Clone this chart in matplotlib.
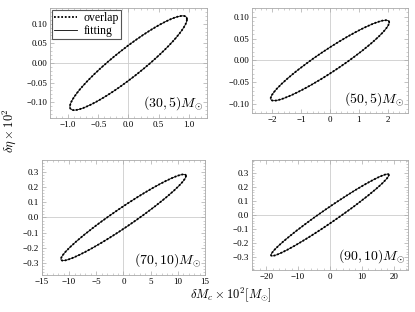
import numpy as np
import matplotlib

matplotlib.use("Agg")
import matplotlib.pyplot as plt
from matplotlib.ticker import AutoMinorLocator

plt.rcParams["font.family"] = ["Liberation Serif", "DejaVu Serif"]
plt.rcParams["mathtext.fontset"] = "cm"

# per-panel ellipse readings: half-width in x, half-height in y, y where ellipse crosses x=0
labels = [r"$(30,5)M_{\odot}$", r"$(50,5)M_{\odot}$", r"$(70,10)M_{\odot}$", r"$(90,10)M_{\odot}$"]
x_half = [0.97, 2.05, 11.5, 18.5]
y_half = [0.120, 0.092, 0.285, 0.290]
y_cross = [0.045, 0.030, 0.075, 0.060]

xlims = [(-1.3, 1.3), (-2.7, 2.7), (-15, 15), (-24.5, 24.5)]
ylims = [(-0.14, 0.14), (-0.12, 0.12), (-0.38, 0.38), (-0.39, 0.39)]
xticks = [[-1.0, -0.5, 0.0, 0.5, 1.0], [-2, -1, 0, 1, 2], [-15, -10, -5, 0, 5, 10, 15], [-20, -10, 0, 10, 20]]
yticks = [[-0.10, -0.05, 0.00, 0.05, 0.10], [-0.10, -0.05, 0.00, 0.05, 0.10],
          [-0.3, -0.2, -0.1, 0.0, 0.1, 0.2, 0.3], [-0.3, -0.2, -0.1, 0.0, 0.1, 0.2, 0.3]]
xfmt = ["{:.1f}", "{:.0f}", "{:.0f}", "{:.0f}"]
yfmt = ["{:.2f}", "{:.2f}", "{:.1f}", "{:.1f}"]

positions = [
    [0.1205, 0.6218, 0.378, 0.3526],
    [0.607, 0.638, 0.376, 0.3365],
    [0.101, 0.1186, 0.393, 0.3686],
    [0.607, 0.1346, 0.376, 0.3526],
]


def ellipse(sx, sy, y0, n=300):
    rho = np.sqrt(1 - (y0 / sy) ** 2)
    cov = np.array([[sx**2, rho * sx * sy], [rho * sx * sy, sy**2]])
    L = np.linalg.cholesky(cov)
    t = np.linspace(0, 2 * np.pi, n)
    pts = L @ np.vstack([np.cos(t), np.sin(t)])
    return pts[0], pts[1]


def fmt_tick(fmt, v):
    s = fmt.format(v)
    if s.startswith("-"):
        s = "\u2212" + s[1:]
    return s


fig = plt.figure(figsize=(4.15, 3.12), dpi=100)
for i in range(4):
    ax = fig.add_axes(positions[i])
    ax.axhline(0, color="#cccccc", lw=0.6, zorder=0)
    ax.axvline(0, color="#cccccc", lw=0.6, zorder=0)
    ex, ey = ellipse(x_half[i], y_half[i], y_cross[i])
    ax.plot(ex, ey, color="black", lw=1.3, ls=(0, (1, 1)), label="overlap")
    ax.plot(ex, ey, color="black", lw=0.6, label="fitting")
    ax.set_xlim(*xlims[i])
    ax.set_ylim(*ylims[i])
    ax.set_xticks(xticks[i])
    ax.set_yticks(yticks[i])
    ax.set_xticklabels([fmt_tick(xfmt[i], v) for v in xticks[i]])
    ax.set_yticklabels([fmt_tick(yfmt[i], v) for v in yticks[i]])
    ax.xaxis.set_minor_locator(AutoMinorLocator(5))
    ax.yaxis.set_minor_locator(AutoMinorLocator(5))
    ax.tick_params(which="both", direction="in", top=True, right=True, color="#aaaaaa",
                   labelsize=6.5, pad=2)
    ax.tick_params(which="major", length=3, width=0.5)
    ax.tick_params(which="minor", length=1.5, width=0.4)
    for sp in ax.spines.values():
        sp.set_color("#aaaaaa")
        sp.set_linewidth(0.6)
    ax.text(0.98, 0.05, labels[i], transform=ax.transAxes, ha="right", va="bottom", fontsize=10)
    if i == 0:
        leg = ax.legend(loc="upper left", fontsize=8.5, handlelength=1.9, borderpad=0.2,
                        labelspacing=0.05, handletextpad=0.6, borderaxespad=0.15,
                        fancybox=False, framealpha=1)
        leg.get_frame().set_edgecolor("#555555")
        leg.get_frame().set_linewidth(0.8)

fig.text(0.022, 0.583, r"$\delta\eta\times10^2$", rotation=90, ha="center", va="center", fontsize=9)
fig.text(0.557, 0.055, r"$\delta M_c\times10^2[M_{\odot}]$", ha="center", va="center", fontsize=9)

fig.savefig("out.png", dpi=100)
